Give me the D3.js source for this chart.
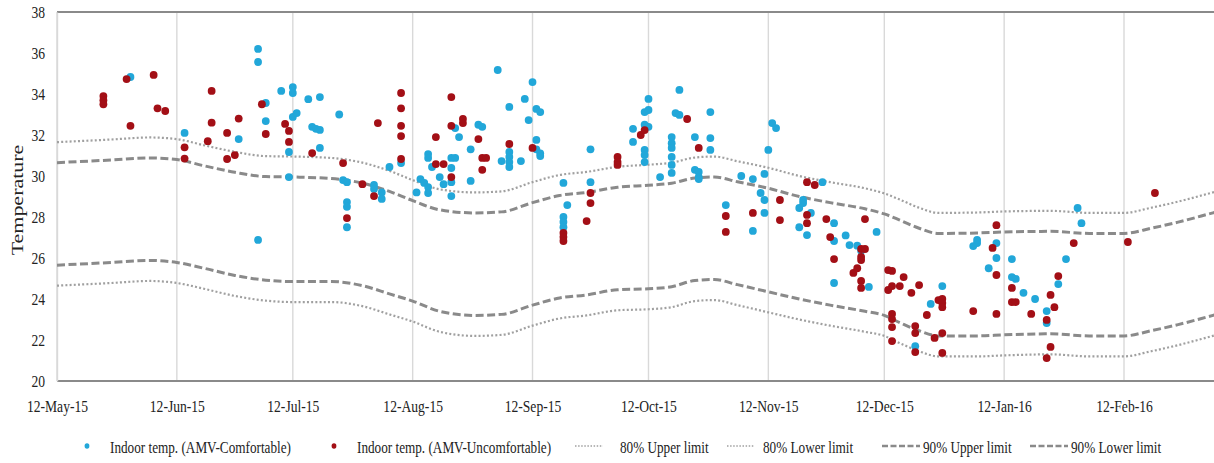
<!DOCTYPE html>
<html>
<head>
<meta charset="utf-8">
<script src="https://cdn.jsdelivr.net/npm/d3@7"></script>
<style>
  html, body { margin: 0; padding: 0; background: #fff; }
  svg { display: block; }
  text { font-family: "Liberation Serif", "Times New Roman", serif; fill: #222; }
</style>
</head>
<body>
<svg id="chart" width="1214" height="463"></svg>
<script>
// ---- data ----------------------------------------------------------------
const xTickDates = ["2015-05-12","2015-06-12","2015-07-12","2015-08-12","2015-09-12",
  "2015-10-12","2015-11-12","2015-12-12","2016-01-12","2016-02-12"];
const yTickValues = [20, 22, 24, 26, 28, 30, 32, 34, 36, 38];

// adaptive comfort band, sampled along the season
const limitDates = ["2015-05-12","2015-05-26","2015-06-05","2015-06-12","2015-06-19","2015-06-27",
  "2015-07-05","2015-07-12","2015-07-22","2015-07-30","2015-08-06","2015-08-12","2015-08-19",
  "2015-08-28","2015-09-04","2015-09-12","2015-09-19","2015-09-26","2015-10-04","2015-10-12",
  "2015-10-18","2015-10-24","2015-10-29","2015-11-04","2015-11-12","2015-11-20","2015-11-28",
  "2015-12-07","2015-12-12","2015-12-16","2015-12-21","2015-12-26","2016-01-05","2016-01-12",
  "2016-01-24","2016-02-03","2016-02-12","2016-02-19","2016-02-26","2016-03-06","2016-03-10"];
const upper80 = [31.65,31.78,31.88,31.8,31.5,31.18,30.97,30.95,30.88,30.65,30.25,29.8,29.35,
  29.2,29.25,29.7,30.05,30.2,30.45,30.55,30.65,30.9,30.95,30.72,30.4,30.0,29.7,29.4,29.15,
  28.85,28.45,28.2,28.22,28.27,28.3,28.2,28.2,28.45,28.75,29.2,29.4];
const lower80 = [24.65,24.78,24.88,24.78,24.5,24.15,23.92,23.85,23.85,23.65,23.25,22.9,22.4,
  22.2,22.25,22.7,23.05,23.2,23.45,23.5,23.6,23.9,23.95,23.7,23.35,23.0,22.7,22.4,22.2,
  21.85,21.45,21.2,21.2,21.25,21.3,21.2,21.2,21.45,21.75,22.2,22.4];
const upper90 = [30.65,30.78,30.88,30.8,30.5,30.18,29.97,29.95,29.88,29.65,29.25,28.8,28.35,
  28.2,28.25,28.7,29.05,29.2,29.45,29.55,29.65,29.9,29.95,29.72,29.4,29.0,28.7,28.4,28.15,
  27.85,27.45,27.2,27.22,27.27,27.3,27.2,27.2,27.45,27.75,28.2,28.4];
const lower90 = [25.65,25.78,25.88,25.78,25.5,25.15,24.92,24.85,24.85,24.65,24.25,23.9,23.4,
  23.2,23.25,23.7,24.05,24.2,24.45,24.5,24.6,24.9,24.95,24.7,24.35,24.0,23.7,23.4,23.2,
  22.85,22.45,22.2,22.2,22.25,22.3,22.2,22.2,22.45,22.75,23.2,23.4];

// indoor temperature readings, split by the occupants' vote
const comfortable = [
  ["2015-05-31",34.83],["2015-06-14",32.1],["2015-06-28",31.8],
  ["2015-07-03",36.2],["2015-07-03",35.56],["2015-07-03",26.88],
  ["2015-07-05",33.56],["2015-07-05",32.68],["2015-07-09",34.15],
  ["2015-07-11",31.17],["2015-07-11",29.95],
  ["2015-07-12",34.34],["2015-07-12",34.05],["2015-07-12",32.88],["2015-07-13",33.07],
  ["2015-07-16",33.75],["2015-07-17",32.4],["2015-07-18",32.3],
  ["2015-07-19",32.25],["2015-07-19",33.85],["2015-07-19",31.37],
  ["2015-07-24",33.0],["2015-07-25",29.8],
  ["2015-07-26",29.7],["2015-07-26",28.73],["2015-07-26",28.5],["2015-07-26",27.5],
  ["2015-08-02",29.56],["2015-08-02",29.37],["2015-08-04",29.2],["2015-08-04",28.88],
  ["2015-08-06",30.44],["2015-08-09",30.63],["2015-08-13",29.2],["2015-08-14",29.85],
  ["2015-08-15",29.66],
  ["2015-08-16",29.46],["2015-08-16",29.17],["2015-08-16",31.07],["2015-08-16",30.88],
  ["2015-08-17",30.44],["2015-08-19",29.95],["2015-08-20",29.6],
  ["2015-08-22",30.88],["2015-08-22",30.39],["2015-08-22",29.7],["2015-08-22",29.02],
  ["2015-08-23",30.88],["2015-08-23",32.34],["2015-08-24",31.9],
  ["2015-08-27",31.3],["2015-08-27",29.76],["2015-08-29",32.5],["2015-08-30",32.4],
  ["2015-09-03",35.17],["2015-09-04",30.73],
  ["2015-09-06",33.37],["2015-09-06",31.17],["2015-09-06",30.93],["2015-09-06",30.68],["2015-09-06",30.44],
  ["2015-09-09",30.73],["2015-09-10",33.76],["2015-09-11",32.73],["2015-09-12",34.58],
  ["2015-09-13",33.27],["2015-09-13",31.76],["2015-09-13",31.3],
  ["2015-09-14",33.12],["2015-09-14",31.1],["2015-09-14",30.97],
  ["2015-09-20",29.66],["2015-09-20",28.0],["2015-09-20",27.76],["2015-09-20",27.5],
  ["2015-09-21",28.58],["2015-09-27",31.3],["2015-09-27",29.7],
  ["2015-10-08",32.3],["2015-10-08",31.66],
  ["2015-10-11",33.12],["2015-10-11",32.5],["2015-10-11",31.27],["2015-10-11",31.02],["2015-10-11",30.68],
  ["2015-10-12",33.22],["2015-10-12",33.76],["2015-10-12",32.4],["2015-10-15",29.95],
  ["2015-10-18",31.9],["2015-10-18",31.6],["2015-10-18",31.37],["2015-10-18",30.93],["2015-10-18",30.54],["2015-10-18",30.15],
  ["2015-10-19",33.07],["2015-10-20",34.2],["2015-10-20",32.98],
  ["2015-10-24",31.9],["2015-10-24",30.3],
  ["2015-10-25",30.2],["2015-10-25",29.95],["2015-10-25",29.85],
  ["2015-10-28",33.12],["2015-10-28",31.85],["2015-10-28",31.27],
  ["2015-11-01",28.58],["2015-11-05",30.0],["2015-11-08",29.85],["2015-11-08",27.32],
  ["2015-11-10",29.17],["2015-11-11",28.83],["2015-11-11",28.2],["2015-11-11",30.1],
  ["2015-11-12",31.27],["2015-11-13",32.58],["2015-11-14",32.34],
  ["2015-11-20",28.44],["2015-11-20",27.5],["2015-11-21",28.83],["2015-11-21",28.68],
  ["2015-11-22",27.12],["2015-11-23",28.2],["2015-11-26",29.7],
  ["2015-11-29",27.7],["2015-11-29",26.83],["2015-11-29",24.78],
  ["2015-12-02",27.1],["2015-12-03",26.63],["2015-12-05",26.6],["2015-12-06",26.35],
  ["2015-12-08",24.59],["2015-12-10",27.27],["2015-12-20",21.7],["2015-12-24",23.76],
  ["2015-12-27",24.63],["2016-01-04",26.58],["2016-01-05",26.73],["2016-01-05",26.88],
  ["2016-01-08",25.5],["2016-01-10",26.73],["2016-01-10",26.0],
  ["2016-01-14",25.95],["2016-01-14",25.07],["2016-01-15",24.98],["2016-01-17",24.3],
  ["2016-01-20",24.0],["2016-01-23",23.41],["2016-01-23",22.83],["2016-01-26",24.73],
  ["2016-01-28",25.95],["2016-01-31",28.44],["2016-02-01",27.7]
];
const uncomfortable = [
  ["2015-05-24",33.9],["2015-05-24",33.7],["2015-05-24",33.5],
  ["2015-05-30",34.73],["2015-05-31",32.45],["2015-06-06",34.93],["2015-06-07",33.3],
  ["2015-06-09",33.17],["2015-06-14",31.4],["2015-06-14",30.85],["2015-06-20",31.7],
  ["2015-06-21",34.15],["2015-06-21",32.6],["2015-06-25",32.1],["2015-06-25",30.83],
  ["2015-06-27",31.02],["2015-06-28",32.8],["2015-07-04",33.5],["2015-07-05",32.05],
  ["2015-07-10",32.54],["2015-07-11",32.2],["2015-07-11",31.66],["2015-07-17",31.12],
  ["2015-07-25",30.63],["2015-07-26",27.95],["2015-07-30",29.6],["2015-08-02",29.02],
  ["2015-08-03",32.58],
  ["2015-08-09",34.05],["2015-08-09",33.3],["2015-08-09",32.45],["2015-08-09",31.95],["2015-08-09",30.83],
  ["2015-08-18",31.9],["2015-08-18",30.58],["2015-08-20",30.58],
  ["2015-08-22",33.85],["2015-08-22",32.45],["2015-08-22",29.95],
  ["2015-08-25",32.78],["2015-08-25",32.58],["2015-08-29",31.8],
  ["2015-08-30",30.88],["2015-08-30",30.3],["2015-08-31",30.88],
  ["2015-09-06",31.56],["2015-09-12",31.37],
  ["2015-09-20",27.22],["2015-09-20",27.02],["2015-09-20",26.83],
  ["2015-09-26",27.8],["2015-09-27",29.17],["2015-09-27",28.68],
  ["2015-10-04",30.93],["2015-10-04",30.68],["2015-10-04",30.54],
  ["2015-10-10",32.0],["2015-10-11",32.24],["2015-10-22",32.78],["2015-10-25",31.37],
  ["2015-11-01",28.05],["2015-11-01",27.27],["2015-11-08",28.2],
  ["2015-11-15",28.83],["2015-11-15",27.85],
  ["2015-11-22",29.7],["2015-11-22",28.1],["2015-11-22",27.7],["2015-11-24",29.56],
  ["2015-11-27",27.9],["2015-11-28",27.02],["2015-11-29",25.95],
  ["2015-12-04",25.27],["2015-12-05",25.5],
  ["2015-12-06",26.44],["2015-12-06",26.05],["2015-12-06",25.9],["2015-12-06",24.88],["2015-12-06",24.54],
  ["2015-12-07",27.9],["2015-12-07",26.44],["2015-12-13",25.41],["2015-12-13",24.44],
  ["2015-12-14",25.37],["2015-12-14",24.63],["2015-12-14",23.27],["2015-12-14",23.02],["2015-12-14",22.63],["2015-12-14",21.95],
  ["2015-12-16",24.63],["2015-12-17",25.07],["2015-12-19",24.3],
  ["2015-12-20",22.68],["2015-12-20",22.34],["2015-12-20",21.41],
  ["2015-12-21",24.68],["2015-12-23",23.22],["2015-12-25",22.1],["2015-12-26",23.95],
  ["2015-12-27",24.0],["2015-12-27",23.8],["2015-12-27",23.6],["2015-12-27",22.34],["2015-12-27",21.37],
  ["2016-01-04",23.41],["2016-01-09",26.49],
  ["2016-01-10",27.6],["2016-01-10",25.17],["2016-01-10",23.27],
  ["2016-01-14",24.54],["2016-01-14",23.85],["2016-01-15",23.85],["2016-01-19",23.27],
  ["2016-01-23",22.98],["2016-01-23",21.12],["2016-01-24",24.2],["2016-01-24",21.66],
  ["2016-01-25",23.6],["2016-01-26",25.12],["2016-01-30",26.73],
  ["2016-02-13",26.78],["2016-02-20",29.17]
];

const seriesNames = ["Indoor temp. (AMV-Comfortable)", "Indoor temp. (AMV-Uncomfortable)",
  "80% Upper limit", "80% Lower limit", "90% Upper limit", "90% Lower limit"];

// ---- drawing -------------------------------------------------------------
const parse = d3.timeParse("%Y-%m-%d");
const squeeze = 0.8;               // type is set narrow
const svg = d3.select("#chart");

const plot = { left: 57, right: 1214, top: 12, bottom: 381 };
const x = d3.scaleTime()
  .domain([parse("2015-05-12"), parse("2016-02-12")])
  .range([57, 1124]);
const y = d3.scaleLinear().domain([20, 38]).range([plot.bottom, plot.top]);

const colBlue = "#22a7d9", colRed = "#a30f16";
const gridCol = "#d9d9d9";

svg.append("defs").append("clipPath").attr("id", "clip")
  .append("rect").attr("x", plot.left).attr("y", plot.top - 2)
  .attr("width", plot.right - plot.left).attr("height", plot.bottom - plot.top + 4);

// vertical gridlines
svg.append("g").selectAll("line").data(xTickDates.map(parse)).join("line")
  .attr("x1", d => x(d)).attr("x2", d => x(d))
  .attr("y1", plot.top).attr("y2", plot.bottom)
  .attr("stroke", gridCol).attr("stroke-width", 1.4);

// frame: top border
svg.append("line").attr("x1", plot.left).attr("x2", plot.right)
  .attr("y1", plot.top).attr("y2", plot.top)
  .attr("stroke", "#8a8a8a").attr("stroke-width", 2);

// x axis
const xAxis = d3.axisBottom(x).tickValues(xTickDates.map(parse))
  .tickFormat(d3.timeFormat("%d-%b-%y")).tickSize(0).tickPadding(0);
const gx = svg.append("g").attr("transform", `translate(0,${plot.bottom})`).call(xAxis);
gx.select(".domain").remove();
gx.selectAll("text")
  .attr("y", 31).attr("dy", 0)
  .attr("transform", `scale(${squeeze},1)`)
  .style("font-size", "17px").style("fill", "#222");
svg.append("line").attr("x1", plot.left).attr("x2", plot.right)
  .attr("y1", plot.bottom).attr("y2", plot.bottom)
  .attr("stroke", "#8a8a8a").attr("stroke-width", 2);

// y axis
const yAxis = d3.axisLeft(y).tickValues(yTickValues).tickSize(0).tickPadding(0);
const gy = svg.append("g").attr("transform", `translate(${plot.left},0)`).call(yAxis);
gy.select(".domain").attr("stroke", gridCol).attr("stroke-width", 1.4);
gy.selectAll("text")
  .attr("x", 0).attr("dy", "0.34em")
  .attr("transform", `translate(-12,0) scale(${squeeze},1)`)
  .style("font-size", "17px").style("fill", "#222");

// axis title
svg.append("text")
  .attr("transform", `translate(23,200) scale(${squeeze},1) rotate(-90)`)
  .attr("text-anchor", "middle")
  .style("font-size", "22px")
  .text("Temperature");

// comfort band lines
const band = svg.append("g").attr("clip-path", "url(#clip)");
const lineGen = vals => d3.line()
  .x((d, i) => x(parse(limitDates[i])))
  .y(d => y(d))
  .curve(d3.curveMonotoneX)(vals);
const dotted = { stroke: "#a0a0a0", width: 2.2, dash: "2,2.2" };
const dashed = { stroke: "#8a8a8a", width: 3, dash: "8,3.5" };
[[upper80, dotted], [lower80, dotted], [upper90, dashed], [lower90, dashed]].forEach(([vals, st]) => {
  band.append("path").attr("d", lineGen(vals))
    .attr("fill", "none").attr("stroke", st.stroke)
    .attr("stroke-width", st.width).attr("stroke-dasharray", st.dash);
});

// readings
const pts = svg.append("g").attr("clip-path", "url(#clip)");
[[comfortable, colBlue], [uncomfortable, colRed]].forEach(([rows, c]) => {
  pts.append("g").selectAll("circle").data(rows).join("circle")
    .attr("cx", d => x(parse(d[0])))
    .attr("cy", d => y(d[1]))
    .attr("r", 3.9)
    .attr("fill", c);
});

// legend
const legendY = 447;
const legendItems = [
  { name: seriesNames[0], kind: "dot", color: colBlue, mx: 87, tx: 110 },
  { name: seriesNames[1], kind: "dot", color: colRed, mx: 334, tx: 357 },
  { name: seriesNames[2], kind: "line", st: dotted, mx: 575, mx2: 603, tx: 620 },
  { name: seriesNames[3], kind: "line", st: dotted, mx: 727, mx2: 754, tx: 763 },
  { name: seriesNames[4], kind: "line", st: dashed, mx: 882, mx2: 920, tx: 923 },
  { name: seriesNames[5], kind: "line", st: dashed, mx: 1030, mx2: 1068, tx: 1071 }
];
const lg = svg.append("g");
legendItems.forEach(it => {
  if (it.kind === "dot") {
    lg.append("ellipse").attr("cx", it.mx).attr("cy", legendY - 1)
      .attr("rx", 2.4).attr("ry", 2.8).attr("fill", it.color);
  } else {
    lg.append("line").attr("x1", it.mx).attr("x2", it.mx2)
      .attr("y1", legendY - 1).attr("y2", legendY - 1)
      .attr("stroke", it.st.stroke)
      .attr("stroke-width", it.st === dotted ? 1.6 : 2.4)
      .attr("stroke-dasharray", it.st === dotted ? "1.5,1.6" : "6,2.5");
  }
  lg.append("text")
    .attr("transform", `translate(${it.tx},${legendY + 6}) scale(${squeeze},1)`)
    .style("font-size", "16.5px")
    .text(it.name);
});
</script>
</body>
</html>
